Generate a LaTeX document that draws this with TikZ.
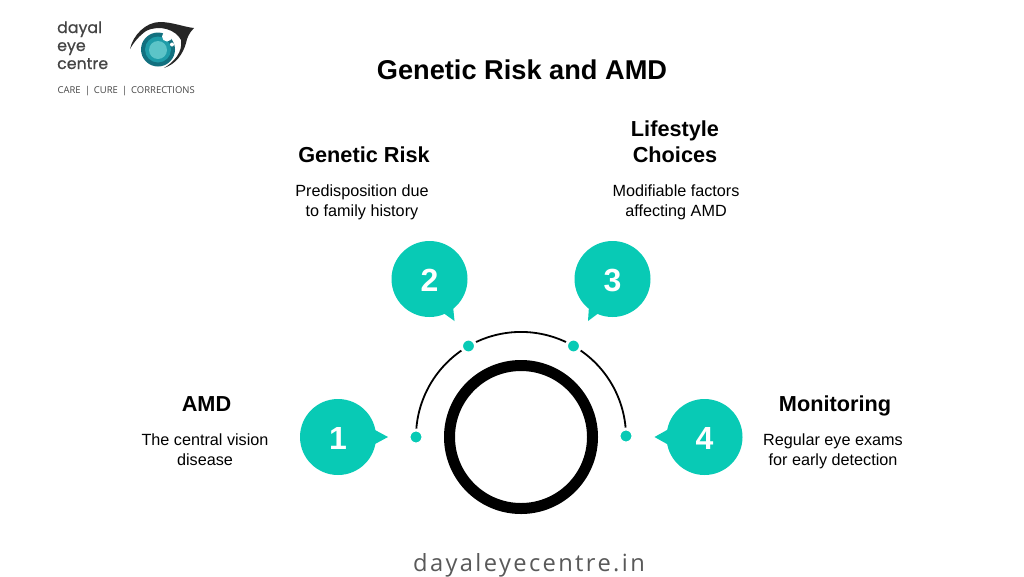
\documentclass[tikz,border=0pt]{standalone}
\usepackage{fontspec}
\usetikzlibrary{backgrounds}
\setmainfont{Liberation Sans}
\newfontfamily\logofont[FakeBold=0.7]{Poppins}
\newfontfamily\tagfont{Open Sans}
\newfontfamily\urlfont[LetterSpace=10]{Open Sans}
\definecolor{teal1}{HTML}{08CAB5}
\definecolor{logotext}{HTML}{444444}
\definecolor{irisdark}{HTML}{12707F}
\definecolor{irislight}{HTML}{5CC4C8}
\definecolor{irismid}{HTML}{1E9CA8}
\tikzset{
  bubble/.style={circle,fill=teal1,minimum size=76pt,inner sep=0pt,text=white,text height=25pt,text depth=0pt,font=\fontsize{32}{32}\selectfont\bfseries},
  tail/.style={fill=teal1,draw=none},
  dot/.style={circle,fill=teal1,draw=white,line width=3pt,minimum size=14pt,inner sep=0pt},
  heading/.style={font=\fontsize{21.7}{26}\selectfont\bfseries,align=center,text=black},
  body/.style={font=\fontsize{16.2}{20.5}\selectfont,align=center,text=black},
  arcline/.style={line width=1.8pt,black},
  logoword/.style={font=\logofont\fontsize{15.8}{15.8}\selectfont,text=logotext,anchor=base west,inner sep=0pt}
}
\begin{document}
\begin{tikzpicture}[x=1pt,y=-1pt]
\useasboundingbox (0,0) rectangle (1024,576);
% logo
\node[logoword] (w1) at (57,33) {dayal};
\node[logoword] (w2) at (57,51) {eye};
\node[logoword] (w3) at (57,69) {centre};
\node[anchor=west,inner sep=0pt,text=logotext,font=\tagfont\fontsize{9.45}{9.45}\selectfont] (tag) at (57.5,91.5) {CARE \,|\, CURE \,|\, CORRECTIONS};
\fill[black!85] (130,49) .. controls (133,35) and (146,22) .. (160,22) .. controls (172,22) and (184,27) .. (194,28) .. controls (189,33) and (187,38) .. (186,43) .. controls (183,54) and (176,64) .. (164,68) .. controls (174,62) and (183,52) .. (181,40) .. controls (176,30) and (160,24) .. (146,31) .. controls (139,36) and (134,42) .. (130,49) -- cycle;
\fill[irisdark] (158,49.5) circle[radius=17];
\fill[irismid] (158,49.5) circle[radius=13];
\fill[irislight] (158,50) circle[radius=9];
\fill[white] (167,36.5) circle[radius=5];
\fill[white] (172,44.5) circle[radius=2];
% title
\node[font=\fontsize{27.2}{27.2}\selectfont\bfseries] (title) at (522,70) {Genetic Risk and AMD};
% ring
\node[circle,draw=black,line width=11pt,minimum size=143pt,inner sep=0pt] (ring) at (521,437) {};
% dots and arc
\node[dot] (d1) at (416,437) {};
\node[dot] (d2) at (468.5,346) {};
\node[dot] (d3) at (573.5,346) {};
\node[dot] (d4) at (626,436) {};
\begin{scope}[on background layer]
\fill[white] (0,0) rectangle (1024,576);
\draw[arcline] (d1.center) arc[start angle=180,end angle=240,radius=105];
\draw[arcline] (d2.center) arc[start angle=240,end angle=300,radius=105];
\draw[arcline] (d3.center) arc[start angle=300,end angle=360,radius=105];
\end{scope}
% bubbles
\fill[tail] (375,430) -- (388,437) -- (375,444) -- cycle;
\fill[tail] (442,312) -- (454.5,321) -- (453,306) -- cycle;
\fill[tail] (600,312) -- (588,321) -- (589,306) -- cycle;
\fill[tail] (667,430) -- (654.5,437) -- (667,444) -- cycle;
\node[bubble] (b1) at (338,437) {1};
\node[bubble] (b2) at (429.5,279) {2};
\node[bubble] (b3) at (612.5,279) {3};
\node[bubble] (b4) at (704.5,437) {4};
% texts
\node[heading] (h1) at (206.5,404) {AMD};
\node[body] (t1) at (205,449.5) {The central vision\\disease};
\node[heading] (h2) at (364,155) {Genetic Risk};
\node[body] (t2) at (362,202.5) {Predisposition due\\to family history};
\node[heading] (h3) at (675,142) {Lifestyle\\Choices};
\node[body] (t3) at (676,202.5) {Modifiable factors\\affecting AMD};
\node[heading] (h4) at (835,405.5) {Monitoring};
\node[body] (t4) at (833,451.5) {Regular eye exams\\for early detection};
\node[font=\urlfont\fontsize{23.7}{23.7}\selectfont,text=black!65] (url) at (529,565) {dayaleyecentre.in};
\end{tikzpicture}
\end{document}
